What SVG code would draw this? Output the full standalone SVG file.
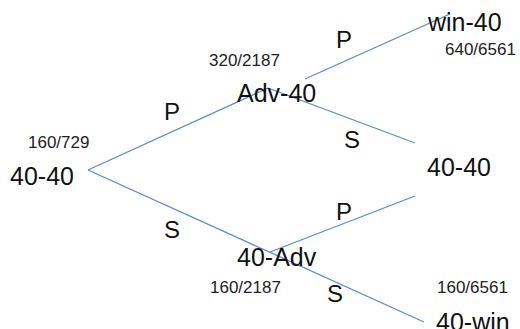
<svg xmlns="http://www.w3.org/2000/svg" width="520" height="329" viewBox="0 0 520 329">
<style>
.big{font-family:"Liberation Sans",Arial,sans-serif;font-size:25px;fill:#111}
.small{font-family:"Liberation Sans",Arial,sans-serif;font-size:17px;fill:#222}
.lbl{font-family:"Liberation Sans",Arial,sans-serif;font-size:24px;fill:#111}
.edge{stroke:#5b8ad0;stroke-width:1.3;fill:none}
</style>
<rect width="520" height="329" fill="#fff"/>
<g id="connectors">
<line class="edge" x1="88" y1="170" x2="268" y2="88"/>
<line class="edge" x1="268" y1="88" x2="415" y2="143"/>
<line class="edge" x1="305" y1="79" x2="450" y2="14"/>
<line class="edge" x1="88" y1="170" x2="424" y2="322"/>
<line class="edge" x1="270" y1="252" x2="415" y2="196"/>
<text class="lbl" x="164" y="120">P</text>
<text class="lbl" x="164" y="238">S</text>
<text class="lbl" x="336" y="48">P</text>
<text class="lbl" x="344" y="148">S</text>
<text class="lbl" x="336" y="220">P</text>
<text class="lbl" x="327" y="302">S</text>
</g>
<g id="root">
<text class="small" x="28" y="148">160/729</text>
<text class="big" x="10" y="185">40-40</text>
</g>
<g id="adv40">
<text class="small" x="209" y="66">320/2187</text>
<text class="big" x="237" y="102">Adv-40</text>
</g>
<g id="win40">
<text class="big" x="428" y="31">win-40</text>
<text class="small" x="445" y="55">640/6561</text>
</g>
<g id="deuce2">
<text class="big" x="427" y="176">40-40</text>
</g>
<g id="adv-opp">
<text class="big" x="237" y="266">40-Adv</text>
<text class="small" x="210" y="293">160/2187</text>
</g>
<g id="win-opp">
<text class="small" x="437" y="293">160/6561</text>
<text class="big" x="436" y="331">40-win</text>
</g>
</svg>
